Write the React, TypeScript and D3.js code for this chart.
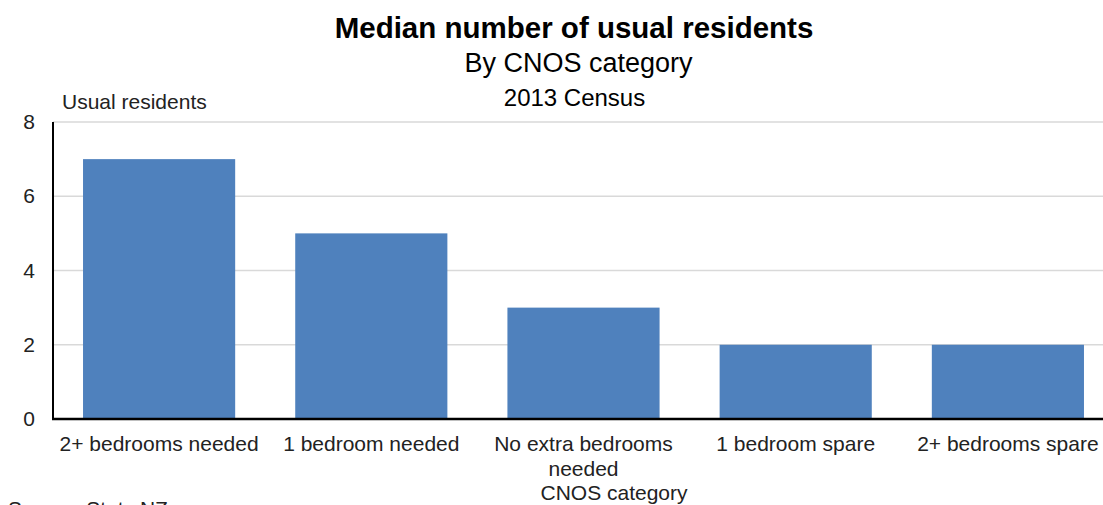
import React from "react";
import * as d3 from "d3";

const categories = ["2+ bedrooms needed", "1 bedroom needed", "No extra bedrooms needed", "1 bedroom spare", "2+ bedrooms spare"];
const categoryLines = [["2+ bedrooms needed"], ["1 bedroom needed"], ["No extra bedrooms", "needed"], ["1 bedroom spare"], ["2+ bedrooms spare"]];
const values = [7, 5, 3, 2, 2];
const yTicks = [0, 2, 4, 6, 8];

const W = 1103, H = 505;
const font = "Liberation Sans, Arial, sans-serif";

export default function App() {
  const x = d3.scaleBand<string>().domain(categories).range([53, 1114]).paddingInner(0.283).paddingOuter(0.1415);
  const y = d3.scaleLinear().domain([0, 8]).range([419, 122]);
  return (
    <svg width={W} height={H} style={{ position: "absolute", left: 0, top: 0, background: "#fff" }} fontFamily={font}>
      <text x={574} y={38} textAnchor="middle" fontSize={29.5} fontWeight="bold" fill="#000">Median number of usual residents</text>
      <text x={578.5} y={72} textAnchor="middle" fontSize={27} fill="#000">By CNOS category</text>
      <text x={574.5} y={106} textAnchor="middle" fontSize={24} fill="#000">2013 Census</text>
      <text x={62} y={109} fontSize={21} fill="#222">Usual residents</text>
      {yTicks.filter(t => t > 0).map(t => (
        <line key={t} x1={53} x2={1114} y1={y(t)} y2={y(t)} stroke="#d9d9d9" strokeWidth={1.5} />
      ))}
      {yTicks.map(t => (
        <text key={t} x={29} y={y(t) + 7} textAnchor="middle" fontSize={21} fill="#222">{t}</text>
      ))}
      {categories.map((c, i) => (
        <rect key={c} x={x(c)} y={y(values[i])} width={x.bandwidth()} height={y(0) - y(values[i])} fill="#4F81BD" />
      ))}
      <line x1={53} x2={53} y1={122} y2={420} stroke="#000" strokeWidth={2} />
      <line x1={52} x2={1114} y1={419} y2={419} stroke="#000" strokeWidth={2.5} />
      {categories.map((c, i) => (
        <text key={c} x={(x(c) as number) + x.bandwidth() / 2} y={451} textAnchor="middle" fontSize={21} fill="#222">
          {categoryLines[i].map((l, j) => (
            <tspan key={j} x={(x(c) as number) + x.bandwidth() / 2} dy={j === 0 ? 0 : 25}>{l}</tspan>
          ))}
        </text>
      ))}
      <text x={614} y={500} textAnchor="middle" fontSize={21} fill="#222">CNOS category</text>
      <text x={8} y={516} fontSize={21} fill="#222">Source: Stats NZ</text>
    </svg>
  );
}
